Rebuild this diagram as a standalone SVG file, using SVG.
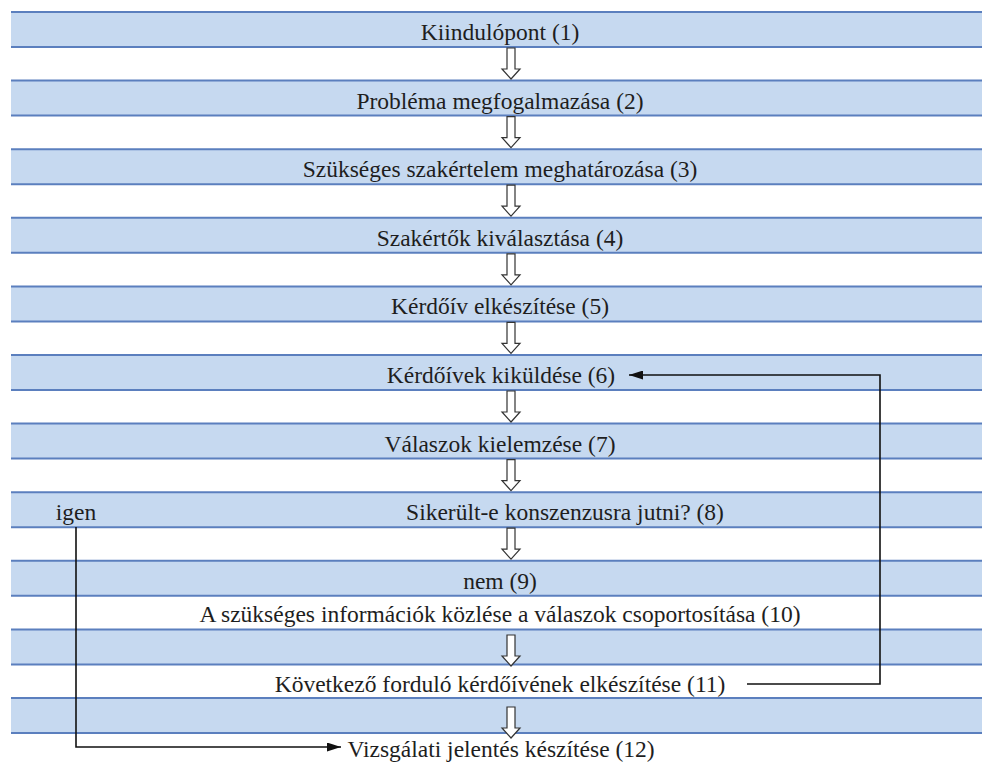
<svg xmlns="http://www.w3.org/2000/svg" width="982" height="762" viewBox="0 0 982 762">
  <style>
    .band { fill: #c6d9f0; }
    .edge { stroke: #5b7fbe; stroke-width: 2; }
    .lbl { font-family: 'Liberation Serif', 'DejaVu Serif', serif; font-size: 23.5px; fill: #1e1e1e; text-anchor: middle; }
    .step { fill: #ffffff; stroke: #333333; stroke-width: 1.2; stroke-linejoin: miter; }
    .link { fill: none; stroke: #111111; stroke-width: 1.6; }
  </style>
  <defs>
    <!-- blue striped row: fill plus top and bottom rules -->
    <g id="row">
      <rect class="band" x="11" y="0" width="971" height="35"/>
      <line class="edge" x1="11" y1="0" x2="982" y2="0"/>
      <line class="edge" x1="11" y1="35" x2="982" y2="35"/>
    </g>
    <!-- hollow downward step arrow -->
    <path id="down" class="step" d="M -4 0 V 21 H -9 L 0 31 L 9 21 H 4 V 0 Z"/>
    <marker id="head" viewBox="0 0 14 9" refX="14" refY="4.5" markerWidth="14" markerHeight="9" markerUnits="userSpaceOnUse" orient="auto">
      <path d="M 0 0 L 14 4.5 L 0 9 Z" fill="#111111"/>
    </marker>
  </defs>

  <rect width="982" height="762" fill="#ffffff"/>

  <!-- background rows -->
  <g id="rows">
    <use href="#row" y="12"/>
    <use href="#row" y="80.6"/>
    <use href="#row" y="149.2"/>
    <use href="#row" y="217.8"/>
    <use href="#row" y="286.4"/>
    <use href="#row" y="355"/>
    <use href="#row" y="423.6"/>
    <use href="#row" y="492.2"/>
    <use href="#row" y="560.8"/>
    <use href="#row" y="629.4"/>
    <use href="#row" y="698"/>
  </g>

  <g font-family="Liberation Serif, DejaVu Serif, serif">
    <g id="n1"><text class="lbl" x="500" y="40">Kiindulópont (1)</text></g>
    <g id="n2"><text class="lbl" x="500" y="108.6">Probléma megfogalmazása (2)</text></g>
    <g id="n3"><text class="lbl" x="500" y="177.2">Szükséges szakértelem meghatározása (3)</text></g>
    <g id="n4"><text class="lbl" x="500" y="245.8">Szakértők kiválasztása (4)</text></g>
    <g id="n5"><text class="lbl" x="500" y="314.4">Kérdőív elkészítése (5)</text></g>
    <g id="n6"><text class="lbl" x="501" y="383">Kérdőívek kiküldése (6)</text></g>
    <g id="n7"><text class="lbl" x="500" y="451.6">Válaszok kielemzése (7)</text></g>
    <g id="n8"><text class="lbl" x="565" y="520.2">Sikerült-e konszenzusra jutni? (8)</text></g>
    <g id="igen"><text class="lbl" x="76" y="520.2">igen</text></g>
    <g id="n9"><text class="lbl" x="500" y="588.8">nem (9)</text></g>
    <g id="n10"><text class="lbl" x="500" y="622">A szükséges információk közlése a válaszok csoportosítása (10)</text></g>
    <g id="n11"><text class="lbl" x="500" y="692">Következő forduló kérdőívének elkészítése (11)</text></g>
    <g id="n12"><text class="lbl" x="501" y="756.5">Vizsgálati jelentés készítése (12)</text></g>
  </g>

  <g id="connectors">
    <use href="#down" x="511" y="48"/>
    <use href="#down" x="511" y="116.6"/>
    <use href="#down" x="511" y="185.2"/>
    <use href="#down" x="511" y="253.8"/>
    <use href="#down" x="511" y="322.4"/>
    <use href="#down" x="511" y="391"/>
    <use href="#down" x="511" y="459.6"/>
    <use href="#down" x="511" y="528.2"/>
    <use href="#down" x="511" y="635"/>
    <use href="#down" x="511" y="707"/>
    <!-- feedback loop: next round goes back to sending questionnaires -->
    <path class="link" d="M 747 684 H 880 V 375 H 629" marker-end="url(#head)"/>
    <!-- consensus reached: jump to final report -->
    <path class="link" d="M 76 527 V 747 H 341" marker-end="url(#head)"/>
  </g>
</svg>
